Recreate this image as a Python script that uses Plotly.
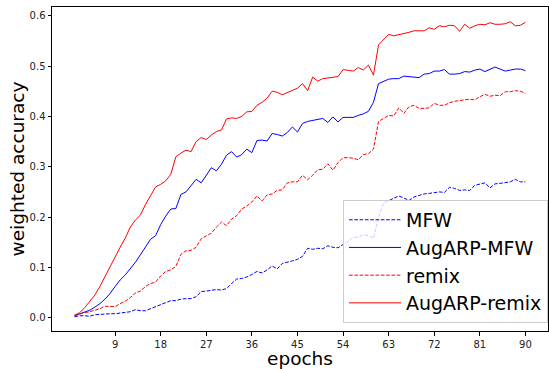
import plotly.graph_objects as go

epochs = list(range(1, 91))

mfw = [0.002, 0.004, 0.004, 0.003, 0.006, 0.007, 0.007, 0.008, 0.008, 0.009,
       0.010, 0.012, 0.016, 0.014, 0.014, 0.018, 0.023, 0.027, 0.031, 0.034,
       0.034, 0.037, 0.038, 0.038, 0.042, 0.052, 0.053, 0.054, 0.056, 0.055,
       0.058, 0.068, 0.077, 0.078, 0.081, 0.086, 0.092, 0.089, 0.095, 0.103,
       0.097, 0.108, 0.110, 0.113, 0.116, 0.122, 0.138, 0.136, 0.138, 0.137,
       0.143, 0.140, 0.139, 0.145, 0.152, 0.160, 0.160, 0.165, 0.163, 0.158,
       0.200, 0.228, 0.233, 0.238, 0.242, 0.238, 0.233, 0.240, 0.243, 0.246,
       0.247, 0.249, 0.250, 0.249, 0.259, 0.257, 0.253, 0.254, 0.253, 0.263,
       0.265, 0.268, 0.258, 0.266, 0.267, 0.269, 0.270, 0.275, 0.270, 0.270]

augarp_mfw = [0.004, 0.008, 0.012, 0.015, 0.021, 0.028, 0.037, 0.048, 0.062, 0.075,
              0.085, 0.097, 0.110, 0.125, 0.140, 0.156, 0.163, 0.185, 0.202, 0.216,
              0.217, 0.245, 0.250, 0.263, 0.275, 0.268, 0.284, 0.298, 0.292, 0.305,
              0.323, 0.330, 0.319, 0.324, 0.335, 0.328, 0.352, 0.353, 0.351, 0.366,
              0.364, 0.361, 0.368, 0.379, 0.369, 0.386, 0.390, 0.392, 0.395, 0.396,
              0.388, 0.399, 0.389, 0.398, 0.398, 0.398, 0.402, 0.405, 0.410, 0.428,
              0.465, 0.470, 0.474, 0.475, 0.475, 0.480, 0.479, 0.477, 0.477, 0.484,
              0.485, 0.490, 0.490, 0.493, 0.484, 0.484, 0.485, 0.489, 0.488, 0.492,
              0.494, 0.489, 0.494, 0.498, 0.494, 0.490, 0.492, 0.494, 0.494, 0.491]

remix = [0.005, 0.008, 0.010, 0.012, 0.015, 0.018, 0.023, 0.022, 0.022, 0.028,
         0.033, 0.040, 0.049, 0.053, 0.062, 0.068, 0.071, 0.083, 0.092, 0.095,
         0.102, 0.126, 0.133, 0.134, 0.140, 0.157, 0.162, 0.168, 0.180, 0.190,
         0.183, 0.196, 0.203, 0.216, 0.222, 0.230, 0.242, 0.232, 0.244, 0.246,
         0.253, 0.254, 0.268, 0.270, 0.270, 0.283, 0.274, 0.283, 0.294, 0.295,
         0.306, 0.293, 0.308, 0.318, 0.318, 0.317, 0.314, 0.324, 0.326, 0.335,
         0.390, 0.396, 0.402, 0.401, 0.417, 0.406, 0.419, 0.422, 0.416, 0.416,
         0.417, 0.426, 0.422, 0.422, 0.427, 0.430, 0.432, 0.433, 0.434, 0.433,
         0.439, 0.444, 0.440, 0.442, 0.441, 0.449, 0.449, 0.451, 0.450, 0.446]

augarp_remix = [0.005, 0.010, 0.020, 0.033, 0.045, 0.062, 0.082, 0.100, 0.122, 0.140,
                0.158, 0.180, 0.194, 0.204, 0.225, 0.244, 0.260, 0.265, 0.272, 0.285,
                0.320, 0.327, 0.333, 0.330, 0.350, 0.358, 0.354, 0.363, 0.370, 0.373,
                0.395, 0.397, 0.396, 0.400, 0.409, 0.410, 0.422, 0.428, 0.436, 0.450,
                0.448, 0.443, 0.447, 0.451, 0.456, 0.465, 0.451, 0.478, 0.470, 0.475,
                0.476, 0.477, 0.479, 0.493, 0.491, 0.490, 0.497, 0.492, 0.502, 0.482,
                0.542, 0.553, 0.563, 0.560, 0.562, 0.565, 0.567, 0.570, 0.570, 0.570,
                0.576, 0.573, 0.580, 0.578, 0.581, 0.580, 0.569, 0.583, 0.575, 0.580,
                0.583, 0.582, 0.586, 0.583, 0.583, 0.584, 0.588, 0.580, 0.581, 0.587]

x_ticks = [9, 18, 27, 36, 45, 54, 63, 72, 81, 90]
y_ticks = [0.0, 0.1, 0.2, 0.3, 0.4, 0.5, 0.6]

series = [
    ("MFW", mfw, "blue", "3.7px,1.6px"),
    ("AugARP-MFW", augarp_mfw, "blue", "solid"),
    ("remix", remix, "red", "3.7px,1.6px"),
    ("AugARP-remix", augarp_remix, "red", "solid"),
]

fig = go.Figure()
for name, vals, color, dash in series:
    fig.add_trace(go.Scatter(
        x=epochs, y=vals, mode="lines", name=name, legendgroup=name,
        line=dict(color=color, width=1, dash=dash),
    ))

axis_common = dict(
    showgrid=False, zeroline=False, showline=True, linecolor="black",
    linewidth=1, mirror=True, ticks="outside", ticklen=3.5, tickwidth=0.8,
    tickcolor="black", tickfont=dict(family="DejaVu Sans", size=10, color="#222"),
)

fig.update_xaxes(
    range=[-3.45, 94.45], tickmode="array", tickvals=x_ticks,
    title=dict(text="epochs", font=dict(family="DejaVu Sans", size=18.5, color="black"), standoff=2),
    **axis_common,
)
fig.update_yaxes(
    range=[-0.0263, 0.6173], tickmode="array", tickvals=y_ticks, tickformat=".1f",
    title=dict(text="weighted accuracy", font=dict(family="DejaVu Sans", size=18.5, color="black"), standoff=0),
    **axis_common,
)

fig.update_layout(
    width=549, height=369,
    margin=dict(l=52, r=1, t=7, b=38, autoexpand=False),
    paper_bgcolor="white", plot_bgcolor="white",
    font=dict(family="DejaVu Sans"),
    legend=dict(
        x=1.0, y=0.025, xanchor="right", yanchor="bottom",
        bgcolor="rgba(255,255,255,0.8)", bordercolor="#cccccc", borderwidth=1,
        font=dict(family="DejaVu Sans", size=19, color="black"),
        tracegroupgap=0, itemwidth=52,
    ),
)

fig.write_html("out.html")
